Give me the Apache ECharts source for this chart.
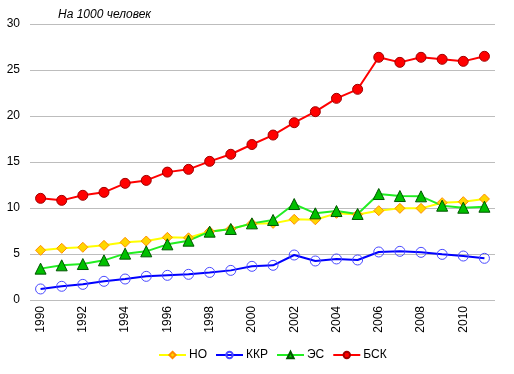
<!DOCTYPE html>
<html><head><meta charset="utf-8">
<script src="https://cdn.jsdelivr.net/npm/echarts@6/dist/echarts.min.js"></script>
<style>html,body{margin:0;padding:0;background:#fff}#c{width:514px;height:374px}</style>
</head><body><div id="c"></div>
<script>
const years = ['1990','1991','1992','1993','1994','1995','1996','1997','1998','1999','2000','2001','2002','2003','2004','2005','2006','2007','2008','2009','2010','2011'];
const NO  = [5.4,5.62,5.73,5.94,6.27,6.41,6.81,6.76,7.45,7.72,8.3,8.33,8.77,8.72,9.42,9.3,9.71,9.96,9.96,10.58,10.69,10.98];
const KKR = [1.2,1.49,1.7,2.03,2.28,2.57,2.68,2.79,3.0,3.22,3.66,3.77,4.89,4.24,4.46,4.35,5.22,5.29,5.18,4.96,4.78,4.53];
const ES  = [3.41,3.77,3.91,4.31,5.04,5.29,6.05,6.45,7.43,7.72,8.33,8.7,10.43,9.42,9.67,9.35,11.52,11.3,11.27,10.25,10.03,10.14];
const BSK = [11.05,10.83,11.38,11.7,12.68,13.0,13.9,14.2,15.07,15.84,16.9,17.93,19.27,20.47,21.92,22.9,26.38,25.83,26.38,26.16,25.94,26.49];
const yTicks = [0,5,10,15,20,25,30];

const font = 'Liberation Sans, Arial, sans-serif';
const chart = echarts.init(document.getElementById('c'), null, {renderer:'canvas'});
chart.setOption({
  animation:false,
  backgroundColor:'#fff',
  textStyle:{fontFamily:font},
  title:{text:'На 1000 человек', left:58, top:9, padding:0, textStyle:{fontSize:12, fontStyle:'italic', fontWeight:'normal', color:'#000', fontFamily:font}},
  grid:{left:30, right:19, top:24, bottom:74, containLabel:false},
  legend:{bottom:8, left:153, itemWidth:27, itemHeight:8, itemGap:8, textStyle:{fontSize:12, color:'#000', fontFamily:font, padding:[0,0,0,-2]},
    data:['НО','ККР','ЭС','БСК']},
  xAxis:{type:'category', data:years, boundaryGap:true,
    axisLine:{show:false}, axisTick:{show:false},
    axisLabel:{interval:1, rotate:90, color:'#000', fontSize:12, fontFamily:font, margin:6}},
  yAxis:{type:'value', min:yTicks[0], max:yTicks[yTicks.length-1], interval:5,
    axisLine:{show:false}, axisTick:{show:false},
    splitLine:{lineStyle:{color:'#bdbdbd', width:1}},
    axisLabel:{color:'#000', fontSize:12, fontFamily:font, margin:10}},
  series:[
    {name:'НО', type:'line', data:NO, symbol:'diamond', symbolSize:10,
      lineStyle:{color:'#ffff00', width:2}, itemStyle:{color:'#ffd700', borderColor:'#ff8c00', borderWidth:1}},
    {name:'ККР', type:'line', data:KKR, symbol:'circle', symbolSize:10,
      lineStyle:{color:'#0000ff', width:2}, itemStyle:{color:'rgba(255,255,255,0)', borderColor:'#4a4aff', borderWidth:1}},
    {name:'ЭС', type:'line', data:ES, symbol:'triangle', symbolSize:11,
      lineStyle:{color:'#22ee22', width:2}, itemStyle:{color:'#00c000', borderColor:'#005500', borderWidth:1}},
    {name:'БСК', type:'line', data:BSK, symbol:'circle', symbolSize:10,
      lineStyle:{color:'#ff0000', width:2}, itemStyle:{color:'#ff0000', borderColor:'#a00000', borderWidth:1}}
  ]
});
</script></body></html>
